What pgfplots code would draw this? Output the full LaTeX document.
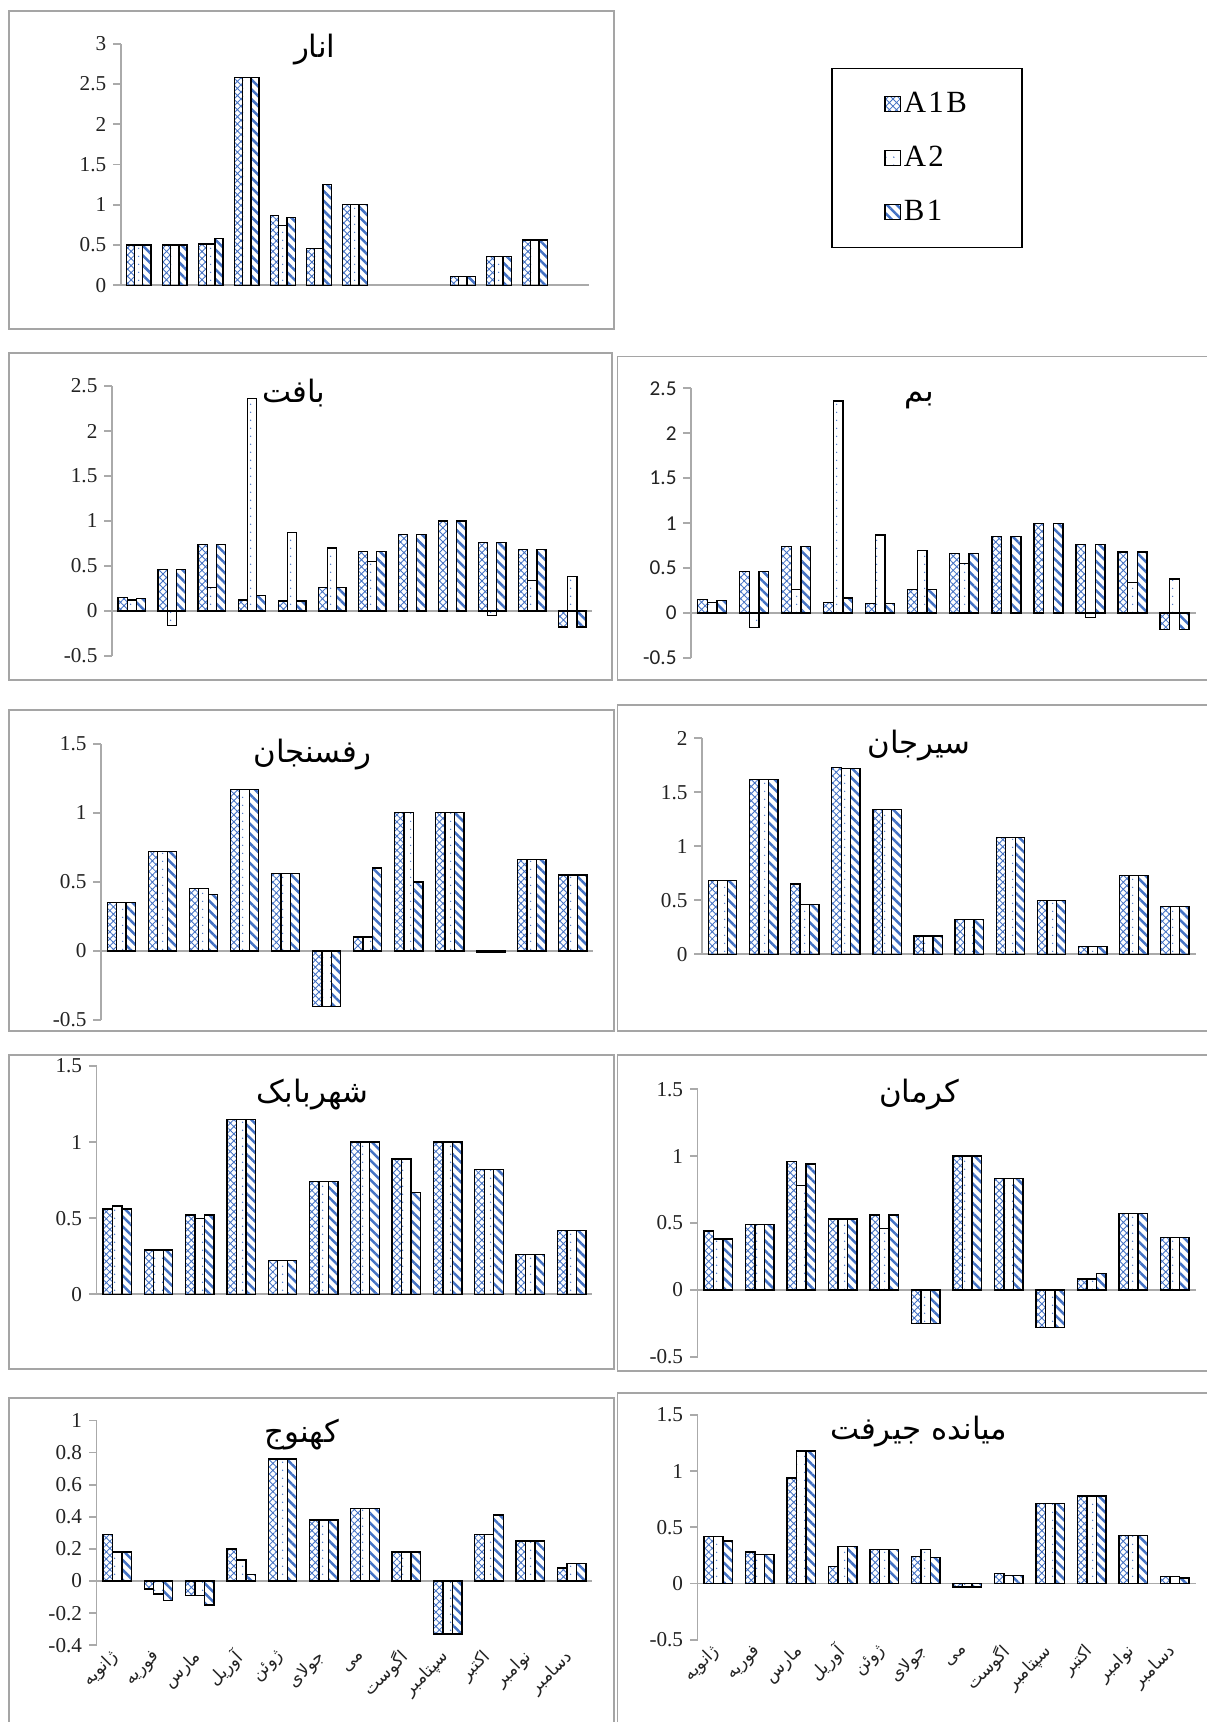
\documentclass[border=0pt]{standalone}
\usepackage{fontspec}
\setmainfont{Liberation Serif}
\newfontfamily\arabicfont[Script=Arabic]{DejaVu Sans}
\newfontfamily\calibrifont{Carlito}
\newfontfamily\legfont[LetterSpace=8]{Liberation Serif}
\usepackage{pgfplots}
\usepackage{pgfplotstable}
\pgfplotsset{compat=1.18}
\usetikzlibrary{patterns.meta}
\TeXXeTstate=1

\definecolor{xlblue}{RGB}{68,114,196}
\definecolor{axgray}{RGB}{170,170,170}
\definecolor{boxgray}{RGB}{165,165,165}
\definecolor{ticktext}{RGB}{35,35,35}

% data: a = A1B, b = A2, c = B1 (months 1..12)
\pgfplotstableread{
x a b c
1 0.50 0.50 0.50
2 0.50 0.50 0.50
3 0.51 0.51 0.58
4 2.58 2.58 2.58
5 0.87 0.74 0.84
6 0.46 0.46 1.25
7 1.00 1.00 1.00
10 0.11 0.11 0.11
11 0.36 0.36 0.36
12 0.56 0.56 0.56
}\anar

\pgfplotstableread{
x a b c
1 0.15 0.12 0.14
2 0.46 -0.16 0.46
3 0.74 0.26 0.74
4 0.12 2.36 0.17
5 0.11 0.87 0.11
6 0.26 0.70 0.26
7 0.66 0.55 0.66
8 0.85 nan 0.85
9 1.00 nan 1.00
10 0.76 -0.05 0.76
11 0.68 0.34 0.68
12 -0.18 0.38 -0.18
}\baft

\pgfplotstableread{
x a b c
1 0.35 0.35 0.35
2 0.72 0.72 0.72
3 0.45 0.45 0.41
4 1.17 1.17 1.17
5 0.56 0.56 0.56
6 -0.40 -0.40 -0.40
7 0.10 0.10 0.60
8 1.00 1.00 0.50
9 1.00 1.00 1.00
10 -0.01 -0.01 -0.01
11 0.66 0.66 0.66
12 0.55 0.55 0.55
}\rafsanjan

\pgfplotstableread{
x a b c
1 0.68 0.68 0.68
2 1.62 1.62 1.62
3 0.65 0.46 0.46
4 1.73 1.72 1.72
5 1.34 1.34 1.34
6 0.17 0.17 0.17
7 0.32 0.32 0.32
8 1.08 1.08 1.08
9 0.50 0.50 0.50
10 0.07 0.07 0.07
11 0.73 0.73 0.73
12 0.44 0.44 0.44
}\sirjan

\pgfplotstableread{
x a b c
1 0.56 0.58 0.56
2 0.29 0.29 0.29
3 0.52 0.50 0.52
4 1.15 1.15 1.15
5 0.22 0.22 0.22
6 0.74 0.74 0.74
7 1.00 1.00 1.00
8 0.89 0.89 0.67
9 1.00 1.00 1.00
10 0.82 0.82 0.82
11 0.26 0.26 0.26
12 0.42 0.42 0.42
}\shahrbabak

\pgfplotstableread{
x a b c
1 0.44 0.38 0.38
2 0.49 0.49 0.49
3 0.96 0.78 0.94
4 0.53 0.53 0.53
5 0.56 0.46 0.56
6 -0.25 -0.25 -0.25
7 1.00 1.00 1.00
8 0.83 0.83 0.83
9 -0.28 -0.28 -0.28
10 0.08 0.08 0.12
11 0.57 0.57 0.57
12 0.39 0.39 0.39
}\kerman

\pgfplotstableread{
x a b c
1 0.29 0.18 0.18
2 -0.05 -0.08 -0.12
3 -0.09 -0.09 -0.15
4 0.20 0.13 0.04
5 0.76 0.76 0.76
6 0.38 0.38 0.38
7 0.45 0.45 0.45
8 0.18 0.18 0.18
9 -0.33 -0.33 -0.33
10 0.29 0.29 0.41
11 0.25 0.25 0.25
12 0.08 0.11 0.11
}\kahnuj

\pgfplotstableread{
x a b c
1 0.42 0.42 0.38
2 0.28 0.26 0.26
3 0.94 1.18 1.18
4 0.15 0.33 0.33
5 0.30 0.30 0.30
6 0.24 0.30 0.23
7 -0.03 -0.03 -0.03
8 0.09 0.07 0.07
9 0.71 0.71 0.71
10 0.78 0.78 0.78
11 0.43 0.43 0.43
12 0.06 0.06 0.05
}\jiroft

\tikzset{
  sA/.style={draw=black, line width=0.7pt, pattern={Hatch[angle=45,distance=2.6pt,line width=0.45pt]}, pattern color=xlblue},
  sB/.style={draw=black, line width=0.7pt, pattern={Dots[distance=4pt,radius=0.4pt]}, pattern color=xlblue},
  sC/.style={draw=black, line width=0.7pt, pattern={Lines[angle=-45,distance=3.6pt,line width=1.3pt]}, pattern color=xlblue},
  ttl/.style={font=\arabicfont\fontsize{16}{16}\selectfont},
  frame/.style={draw=boxgray, line width=1pt},
}

\pgfplotsset{
  panel/.style={
    scale only axis,
    anchor=south west,
    ybar=0pt, bar width=0.23,
    axis lines*=left,
    x axis line style={draw=none},
    y axis line style={draw=axgray, line width=0.9pt},
    xtick={1,...,12}, xticklabels={},
    xtick style={draw=none},
    ytick style={draw=axgray, line width=0.9pt},
    tick align=outside, major tick length=0.14cm,
    xmin=0.5, xmax=12.5,
    extra y ticks={0}, extra y tick labels={},
    extra y tick style={grid=major, major grid style={draw=axgray, line width=0.9pt}, major tick length=0pt},
    /pgf/number format/assume math mode=true,
    /pgf/number format/fixed,
    yticklabel style={font=\fontsize{11}{11}\selectfont, text=ticktext},
    legend image code/.code={\draw[##1] (0cm,-0.14cm) rectangle (0.28cm,0.14cm);},
  },
  months/.style={
    xticklabels={{\beginR ژانویه\endR},{\beginR فوریه\endR},{\beginR مارس\endR},{\beginR آوریل\endR},{\beginR ژوئن\endR},{\beginR جولای\endR},{\beginR می\endR},{\beginR اگوست\endR},{\beginR سپتامبر\endR},{\beginR اکتبر\endR},{\beginR نوامبر\endR},{\beginR دسامبر\endR}},
    xticklabel style={rotate=45, anchor=east, font=\arabicfont\fontsize{9}{9}\selectfont, text=ticktext, inner sep=1pt},
  },
}

\begin{document}
\begin{tikzpicture}
\useasboundingbox (0,0) rectangle (22,-31.4);

% chart area frames
\draw[frame] (0.16,-0.20) rectangle (11.20,-6.00);
\draw[frame] (0.16,-6.44) rectangle (11.16,-12.40);
\draw[frame] (11.26,-6.50) rectangle (22.2,-12.40);
\draw[frame] (0.16,-12.94) rectangle (11.20,-18.80);
\draw[frame] (11.26,-12.86) rectangle (22.2,-18.80);
\draw[frame] (0.16,-19.24) rectangle (11.20,-24.96);
\draw[frame] (11.26,-19.24) rectangle (22.2,-25.00);
\draw[frame] (0.16,-25.50) rectangle (11.20,-31.8);
\draw[frame] (11.26,-25.40) rectangle (22.2,-31.8);

% Anar + legend
\begin{axis}[panel, at={(2.20cm,-5.20cm)}, width=8.54cm, height=4.40cm,
  xmax=13.5, ymin=0, ymax=3, ytick={0,0.5,...,3},
  legend style={at={(1.5176,0.9)}, anchor=north west, draw=black, line width=0.7pt,
    font=\legfont\fontsize{16}{16}\selectfont, inner xsep=0.95cm, inner ysep=0.36cm, row sep=0.42cm,
    nodes={inner xsep=1.5pt}},
  legend cell align=left]
\addplot[sA] table[x=x,y=a]{\anar};
\addplot[sB] table[x=x,y=b]{\anar};
\addplot[sC] table[x=x,y=c]{\anar};
\legend{A1B,A2,B1}
\end{axis}

% Baft
\begin{axis}[panel, at={(2.04cm,-11.96cm)}, width=8.76cm, height=4.92cm,
  ymin=-0.5, ymax=2.5, ytick={-0.5,0,0.5,1,1.5,2,2.5}]
\addplot[sA] table[x=x,y=a]{\baft};
\addplot[sB] table[x=x,y=b]{\baft};
\addplot[sC] table[x=x,y=c]{\baft};
\end{axis}

% Bam
\begin{axis}[panel, at={(12.60cm,-12.00cm)}, width=9.20cm, height=4.92cm,
  ymin=-0.5, ymax=2.5, ytick={-0.5,0,0.5,1,1.5,2,2.5},
  yticklabel style={font=\calibrifont\fontsize{11}{11}\selectfont}]
\addplot[sA] table[x=x,y=a]{\baft};
\addplot[sB] table[x=x,y=b]{\baft};
\addplot[sC] table[x=x,y=c]{\baft};
\end{axis}

% Rafsanjan
\begin{axis}[panel, at={(1.84cm,-18.60cm)}, width=8.98cm, height=5.04cm,
  ymin=-0.5, ymax=1.5, ytick={-0.5,0,0.5,1,1.5}]
\addplot[sA] table[x=x,y=a]{\rafsanjan};
\addplot[sB] table[x=x,y=b]{\rafsanjan};
\addplot[sC] table[x=x,y=c]{\rafsanjan};
\end{axis}

% Sirjan
\begin{axis}[panel, at={(12.80cm,-17.40cm)}, width=9.00cm, height=3.94cm,
  ymin=0, ymax=2, ytick={0,0.5,1,1.5,2}]
\addplot[sA] table[x=x,y=a]{\sirjan};
\addplot[sB] table[x=x,y=b]{\sirjan};
\addplot[sC] table[x=x,y=c]{\sirjan};
\end{axis}

% Shahrbabak
\begin{axis}[panel, at={(1.76cm,-23.60cm)}, width=9.04cm, height=4.16cm,
  ymin=0, ymax=1.5, ytick={0,0.5,1,1.5}]
\addplot[sA] table[x=x,y=a]{\shahrbabak};
\addplot[sB] table[x=x,y=b]{\shahrbabak};
\addplot[sC] table[x=x,y=c]{\shahrbabak};
\end{axis}

% Kerman
\begin{axis}[panel, at={(12.72cm,-24.74cm)}, width=9.08cm, height=4.88cm,
  ymin=-0.5, ymax=1.5, ytick={-0.5,0,0.5,1,1.5}]
\addplot[sA] table[x=x,y=a]{\kerman};
\addplot[sB] table[x=x,y=b]{\kerman};
\addplot[sC] table[x=x,y=c]{\kerman};
\end{axis}

% Kahnuj
\begin{axis}[panel, months, at={(1.76cm,-30.00cm)}, width=9.04cm, height=4.10cm,
  ymin=-0.4, ymax=1, ytick={-0.4,-0.2,0,0.2,0.4,0.6,0.8,1}]
\addplot[sA] table[x=x,y=a]{\kahnuj};
\addplot[sB] table[x=x,y=b]{\kahnuj};
\addplot[sC] table[x=x,y=c]{\kahnuj};
\end{axis}

% Jiroft
\begin{axis}[panel, months, at={(12.72cm,-29.90cm)}, width=9.08cm, height=4.10cm,
  ymin=-0.5, ymax=1.5, ytick={-0.5,0,0.5,1,1.5}]
\addplot[sA] table[x=x,y=a]{\jiroft};
\addplot[sB] table[x=x,y=b]{\jiroft};
\addplot[sC] table[x=x,y=c]{\jiroft};
\end{axis}

% panel titles
\node[ttl] at (5.74,-0.90) {\beginR انار\endR};
\node[ttl] at (5.36,-7.16) {\beginR بافت\endR};
\node[ttl] at (16.76,-7.30) {\beginR بم\endR};
\node[ttl] at (5.70,-13.76) {\beginR رفسنجان\endR};
\node[ttl] at (16.76,-13.60) {\beginR سیرجان\endR};
\node[ttl] at (5.70,-19.96) {\beginR شهربابک\endR};
\node[ttl] at (16.76,-19.96) {\beginR کرمان\endR};
\node[ttl] at (5.50,-26.16) {\beginR کهنوج\endR};
\node[ttl] at (16.76,-26.10) {\beginR میانده جیرفت\endR};
\end{tikzpicture}
\end{document}
